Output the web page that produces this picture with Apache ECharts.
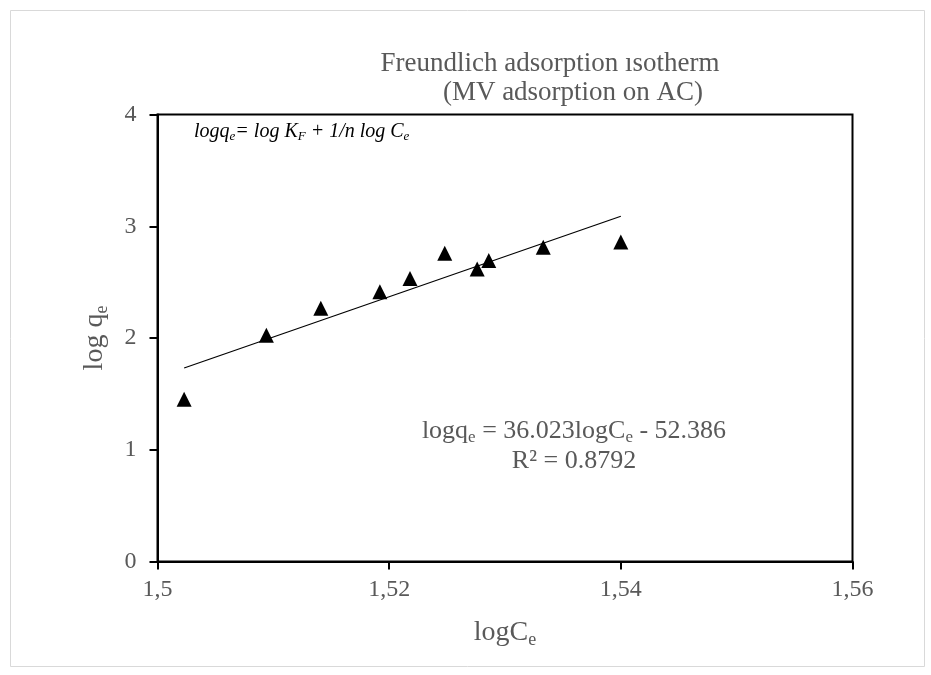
<!DOCTYPE html>
<html>
<head>
<meta charset="utf-8">
<script src="https://cdn.jsdelivr.net/npm/echarts@6/dist/echarts.min.js"></script>
<style>
  html, body { margin: 0; padding: 0; background: #fff; }
  #main { width: 931px; height: 675px; }
</style>
</head>
<body>
<div id="main"></div>
<script>
// log Ce / log qe
var logCe = [1.5023, 1.5094, 1.5141, 1.5192, 1.5218, 1.5248, 1.5276, 1.5286, 1.5333, 1.5400];
var logQe = [1.453, 2.025, 2.266, 2.413, 2.532, 2.758, 2.617, 2.693, 2.812, 2.860];
var slope = 36.023;
var intercept = -52.386;
var xTicks = [1.5, 1.52, 1.54, 1.56];
var yTicks = [0, 1, 2, 3, 4];

var serif = "'Liberation Serif', 'DejaVu Serif', serif";
var grey = "#595959";

var points = logCe.map(function (x, i) { return [x, logQe[i]]; });
var xMin = Math.min.apply(null, logCe);
var xMax = Math.max.apply(null, logCe);
var trend = [[xMin, slope * xMin + intercept], [xMax, slope * xMax + intercept]];

var myChart = echarts.init(document.getElementById("main"));

myChart.setOption({
  animation: false,
  backgroundColor: "#fff",
  grid: {
    left: 157.5,
    right: 78.5,
    top: 114.5,
    bottom: 113.5,
    show: true,
    borderColor: "#000",
    borderWidth: 2
  },
  xAxis: {
    type: "value",
    min: xTicks[0],
    max: xTicks[xTicks.length - 1],
    interval: 0.02,
    name: "{a|logC}{s|e}",
    nameLocation: "middle",
    nameGap: 55,
    nameTextStyle: {
      rich: {
        a: { fontFamily: serif, fontSize: 28, color: grey },
        s: { fontFamily: serif, fontSize: 18, color: grey, verticalAlign: "bottom", padding: [15, 0, 0, 0] }
      }
    },
    splitLine: { show: false },
    axisLine: { show: true, lineStyle: { color: "#000", width: 2 } },
    axisTick: { show: true, length: 8, lineStyle: { color: "#000", width: 2 } },
    axisLabel: {
      margin: 16,
      fontFamily: serif,
      fontSize: 24,
      color: grey,
      formatter: function (v) { return String(parseFloat(v.toFixed(4))).replace(".", ","); }
    }
  },
  yAxis: {
    type: "value",
    min: yTicks[0],
    max: yTicks[yTicks.length - 1],
    interval: 1,
    name: "{a|log q}{s|e}",
    nameLocation: "middle",
    nameGap: 46,
    nameRotate: 90,
    nameTextStyle: {
      rich: {
        a: { fontFamily: serif, fontSize: 28, color: grey },
        s: { fontFamily: serif, fontSize: 18, color: grey, verticalAlign: "bottom", padding: [15, 0, 0, 0] }
      }
    },
    splitLine: { show: false },
    axisLine: { show: true, lineStyle: { color: "#000", width: 2 } },
    axisTick: { show: true, length: 8, lineStyle: { color: "#000", width: 2 } },
    axisLabel: {
      margin: 21,
      fontFamily: serif,
      fontSize: 24,
      color: grey
    }
  },
  graphic: [
    {
      type: "rect",
      left: 8, top: 8,
      shape: { width: 914, height: 656 },
      style: { fill: null, stroke: "#d9d9d9", lineWidth: 1 },
      silent: true
    },
    {
      type: "text",
      x: 550, y: 64,
      style: {
        text: "Freundlich adsorption ısotherm",
        font: "27px " + serif, fill: grey,
        textAlign: "center", textVerticalAlign: "middle"
      }
    },
    {
      type: "text",
      x: 573, y: 93,
      style: {
        text: "(MV adsorption on AC)",
        font: "27px " + serif, fill: grey,
        textAlign: "center", textVerticalAlign: "middle"
      }
    },
    {
      type: "text",
      x: 194, y: 132,
      style: {
        text: "{a|logq}{s|e}{a|= log K}{s|F}{a| + 1/n log C}{s|e}",
        fill: "#000",
        textVerticalAlign: "middle",
        rich: {
          a: { fontFamily: serif, fontStyle: "italic", fontSize: 20, fill: "#000" },
          s: { fontFamily: serif, fontStyle: "italic", fontSize: 13, fill: "#000", verticalAlign: "bottom", padding: [10, 0, 0, 0] }
        }
      }
    },
    {
      type: "text",
      x: 574, y: 431,
      style: {
        text: "{a|logq}{s|e}{a| = 36.023logC}{s|e}{a| - 52.386}",
        fill: grey,
        textAlign: "center",
        textVerticalAlign: "middle",
        rich: {
          a: { fontFamily: serif, fontSize: 26, fill: grey },
          s: { fontFamily: serif, fontSize: 17, fill: grey, verticalAlign: "bottom", padding: [14, 0, 0, 0] }
        }
      }
    },
    {
      type: "text",
      x: 574, y: 461,
      style: {
        text: "R² = 0.8792",
        font: "26px " + serif, fill: grey,
        textAlign: "center", textVerticalAlign: "middle"
      }
    }
  ],
  series: [
    {
      name: "trend",
      type: "line",
      data: trend,
      symbol: "none",
      lineStyle: { color: "#000", width: 1.2 },
      z: 2
    },
    {
      name: "data",
      type: "scatter",
      data: points,
      symbol: "triangle",
      symbolSize: 15,
      itemStyle: { color: "#000", opacity: 1 },
      z: 3
    }
  ]
});
</script>
</body>
</html>
